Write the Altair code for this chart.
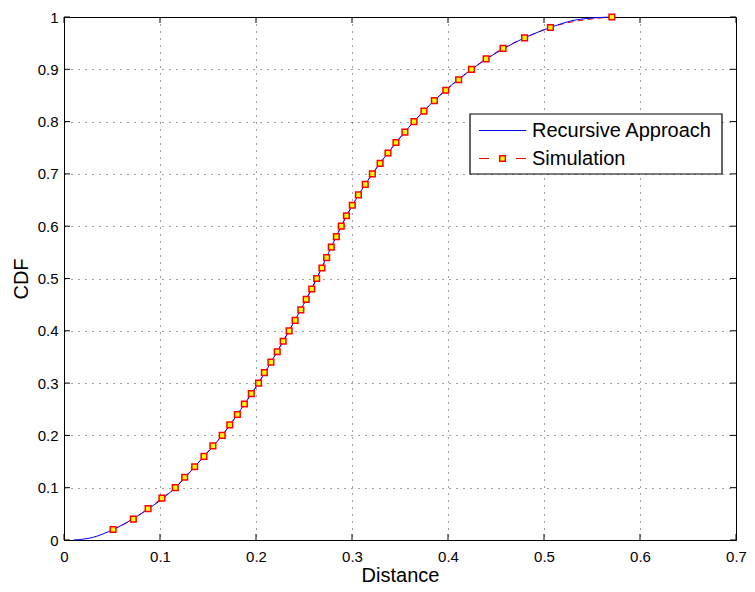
import altair as alt
import pandas as pd

# Simulation markers
sim_y = [0.02, 0.04, 0.06, 0.08, 0.10, 0.12, 0.14, 0.16, 0.18, 0.20,
         0.22, 0.24, 0.26, 0.28, 0.30, 0.32, 0.34, 0.36, 0.38, 0.40,
         0.42, 0.44, 0.46, 0.48, 0.50, 0.52, 0.54, 0.56, 0.58, 0.60,
         0.62, 0.64, 0.66, 0.68, 0.70, 0.72, 0.74, 0.76, 0.78, 0.80,
         0.82, 0.84, 0.86, 0.88, 0.90, 0.92, 0.94, 0.96, 0.98, 1.00]
sim_x = [0.0511, 0.0722, 0.0876, 0.1020, 0.1159, 0.1257, 0.1361, 0.1458, 0.1551, 0.1648,
         0.1727, 0.1806, 0.1879, 0.1951, 0.2027, 0.2087, 0.2155, 0.2221, 0.2283, 0.2345,
         0.2407, 0.2467, 0.2523, 0.2581, 0.2632, 0.2687, 0.2736, 0.2784, 0.2837, 0.2888,
         0.2942, 0.3003, 0.3067, 0.3138, 0.3212, 0.3293, 0.3375, 0.3458, 0.3551, 0.3646,
         0.3750, 0.3858, 0.3977, 0.4111, 0.4245, 0.4397, 0.4573, 0.4798, 0.5067, 0.5707]

# Recursive approach curve
rec_x = [0.010, 0.030, 0.0511, 0.080, 0.1159, 0.1410, 0.1648, 0.1843, 0.2027, 0.2188,
         0.2345, 0.2494, 0.2632, 0.2758, 0.2888, 0.3036, 0.3212, 0.3417, 0.3644, 0.3913,
         0.4245, 0.4685, 0.5067, 0.5350, 0.5707]
rec_y = [0.0, 0.005, 0.02, 0.05, 0.10, 0.15, 0.20, 0.25, 0.30, 0.35,
         0.40, 0.45, 0.50, 0.55, 0.60, 0.65, 0.70, 0.75, 0.80, 0.85,
         0.90, 0.95, 0.98, 0.995, 1.0]

x_ticks = [0, 0.1, 0.2, 0.3, 0.4, 0.5, 0.6, 0.7]
y_ticks = [0, 0.1, 0.2, 0.3, 0.4, 0.5, 0.6, 0.7, 0.8, 0.9, 1.0]

legend_labels = ["Recursive Approach", "Simulation"]

W, H = 672, 523
FONT = "Liberation Sans"

sim_df = pd.DataFrame({"x": sim_x, "y": sim_y})
rec_df = pd.DataFrame({"x": rec_x, "y": rec_y})
xt_df = pd.DataFrame({"v": x_ticks})
yt_df = pd.DataFrame({"v": y_ticks})
one = pd.DataFrame({"a": [0]})

xscale = alt.Scale(domain=[0, 0.7], nice=False, zero=False)
yscale = alt.Scale(domain=[0, 1], nice=False, zero=False)

xaxis = alt.Axis(values=x_ticks, title="Distance", labelExpr="format(datum.value, '~g')",
                 grid=True, ticks=False, labelFontSize=15, labelPadding=9,
                 titleFontSize=20, titleFontWeight="normal", titleBaseline="alphabetic",
                 titleY=41, labelFont=FONT, titleFont=FONT, labelColor="#000",
                 titleColor="#000", domainColor="#000", labelFlush=False)
yaxis = alt.Axis(values=y_ticks, title="CDF", labelExpr="format(datum.value, '~g')",
                 grid=True, ticks=False, labelFontSize=15, labelPadding=6,
                 titleFontSize=20, titleFontWeight="normal", titleBaseline="bottom",
                 titleX=-33, titleY=H / 2, titleAngle=-90,
                 labelFont=FONT, titleFont=FONT, labelColor="#000",
                 titleColor="#000", domainColor="#000", labelFlush=False)

base_x = alt.X("x:Q", scale=xscale, axis=xaxis)
base_y = alt.Y("y:Q", scale=yscale, axis=yaxis)

red_line = alt.Chart(sim_df).mark_line(color="#ff0000", strokeWidth=1, strokeDash=[6, 4],
                                       interpolate="monotone").encode(
    x=base_x, y=base_y)
blue_line = alt.Chart(rec_df).mark_line(color="#0000ff", strokeWidth=1, interpolate="monotone").encode(
    x=alt.X("x:Q", scale=xscale), y=alt.Y("y:Q", scale=yscale))
markers = alt.Chart(sim_df).mark_point(shape="square", size=32, filled=False, fill="#ffff00",
                                       fillOpacity=1, stroke="#ff0000", strokeWidth=1.5, opacity=1).encode(
    x=alt.X("x:Q", scale=xscale), y=alt.Y("y:Q", scale=yscale))

tick_len = 6
bottom_ticks = alt.Chart(xt_df).mark_rule(color="#000", strokeWidth=1).encode(
    x=alt.X("v:Q", scale=xscale), y=alt.value(H), y2=alt.value(H - tick_len))
top_ticks = alt.Chart(xt_df).mark_rule(color="#000", strokeWidth=1).encode(
    x=alt.X("v:Q", scale=xscale), y=alt.value(0), y2=alt.value(tick_len))
left_ticks = alt.Chart(yt_df).mark_rule(color="#000", strokeWidth=1).encode(
    y=alt.Y("v:Q", scale=yscale), x=alt.value(0), x2=alt.value(tick_len))
right_ticks = alt.Chart(yt_df).mark_rule(color="#000", strokeWidth=1).encode(
    y=alt.Y("v:Q", scale=yscale), x=alt.value(W), x2=alt.value(W - tick_len))

# Legend (drawn manually to mimic MATLAB style)
lx0, lx1, ly0, ly1 = 406, 658, 97, 157
leg_box = alt.Chart(one).mark_rect(fill="white", stroke="#000", strokeWidth=1.2).encode(
    x=alt.value(lx0), x2=alt.value(lx1), y=alt.value(ly0), y2=alt.value(ly1))
leg_blue = alt.Chart(one).mark_rule(color="#0000ff", strokeWidth=1).encode(
    x=alt.value(415), x2=alt.value(462), y=alt.value(113.5))
leg_red = alt.Chart(one).mark_rule(color="#ff0000", strokeWidth=1, strokeDash=[10, 27]).encode(
    x=alt.value(415), x2=alt.value(462), y=alt.value(141.5))
leg_marker = alt.Chart(one).mark_point(shape="square", size=32, filled=False, fill="#ffff00",
                                       fillOpacity=1, stroke="#ff0000", strokeWidth=1.5, opacity=1).encode(
    x=alt.value(438.5), y=alt.value(141.5))
leg_t1 = alt.Chart(one).mark_text(text=legend_labels[0], align="left", baseline="middle",
                                  fontSize=20, font=FONT, color="#000").encode(
    x=alt.value(468), y=alt.value(114))
leg_t2 = alt.Chart(one).mark_text(text=legend_labels[1], align="left", baseline="middle",
                                  fontSize=20, font=FONT, color="#000").encode(
    x=alt.value(468), y=alt.value(142))

chart = alt.layer(
    red_line, blue_line, markers,
    bottom_ticks, top_ticks, left_ticks, right_ticks,
    leg_box, leg_blue, leg_red, leg_marker, leg_t1, leg_t2,
).properties(
    width=W, height=H,
    autosize=alt.AutoSizeParams(type="none"),
    padding={"left": 56, "top": 9, "right": 11, "bottom": 44},
    background="white",
).configure_view(
    stroke="#000", strokeWidth=1
).configure_axis(
    gridColor="#000", gridDash=[1, 6], gridOpacity=0.75, gridWidth=1,
    domainWidth=1
)

chart.save("out.html", embed_options={"renderer": "svg", "actions": False})
